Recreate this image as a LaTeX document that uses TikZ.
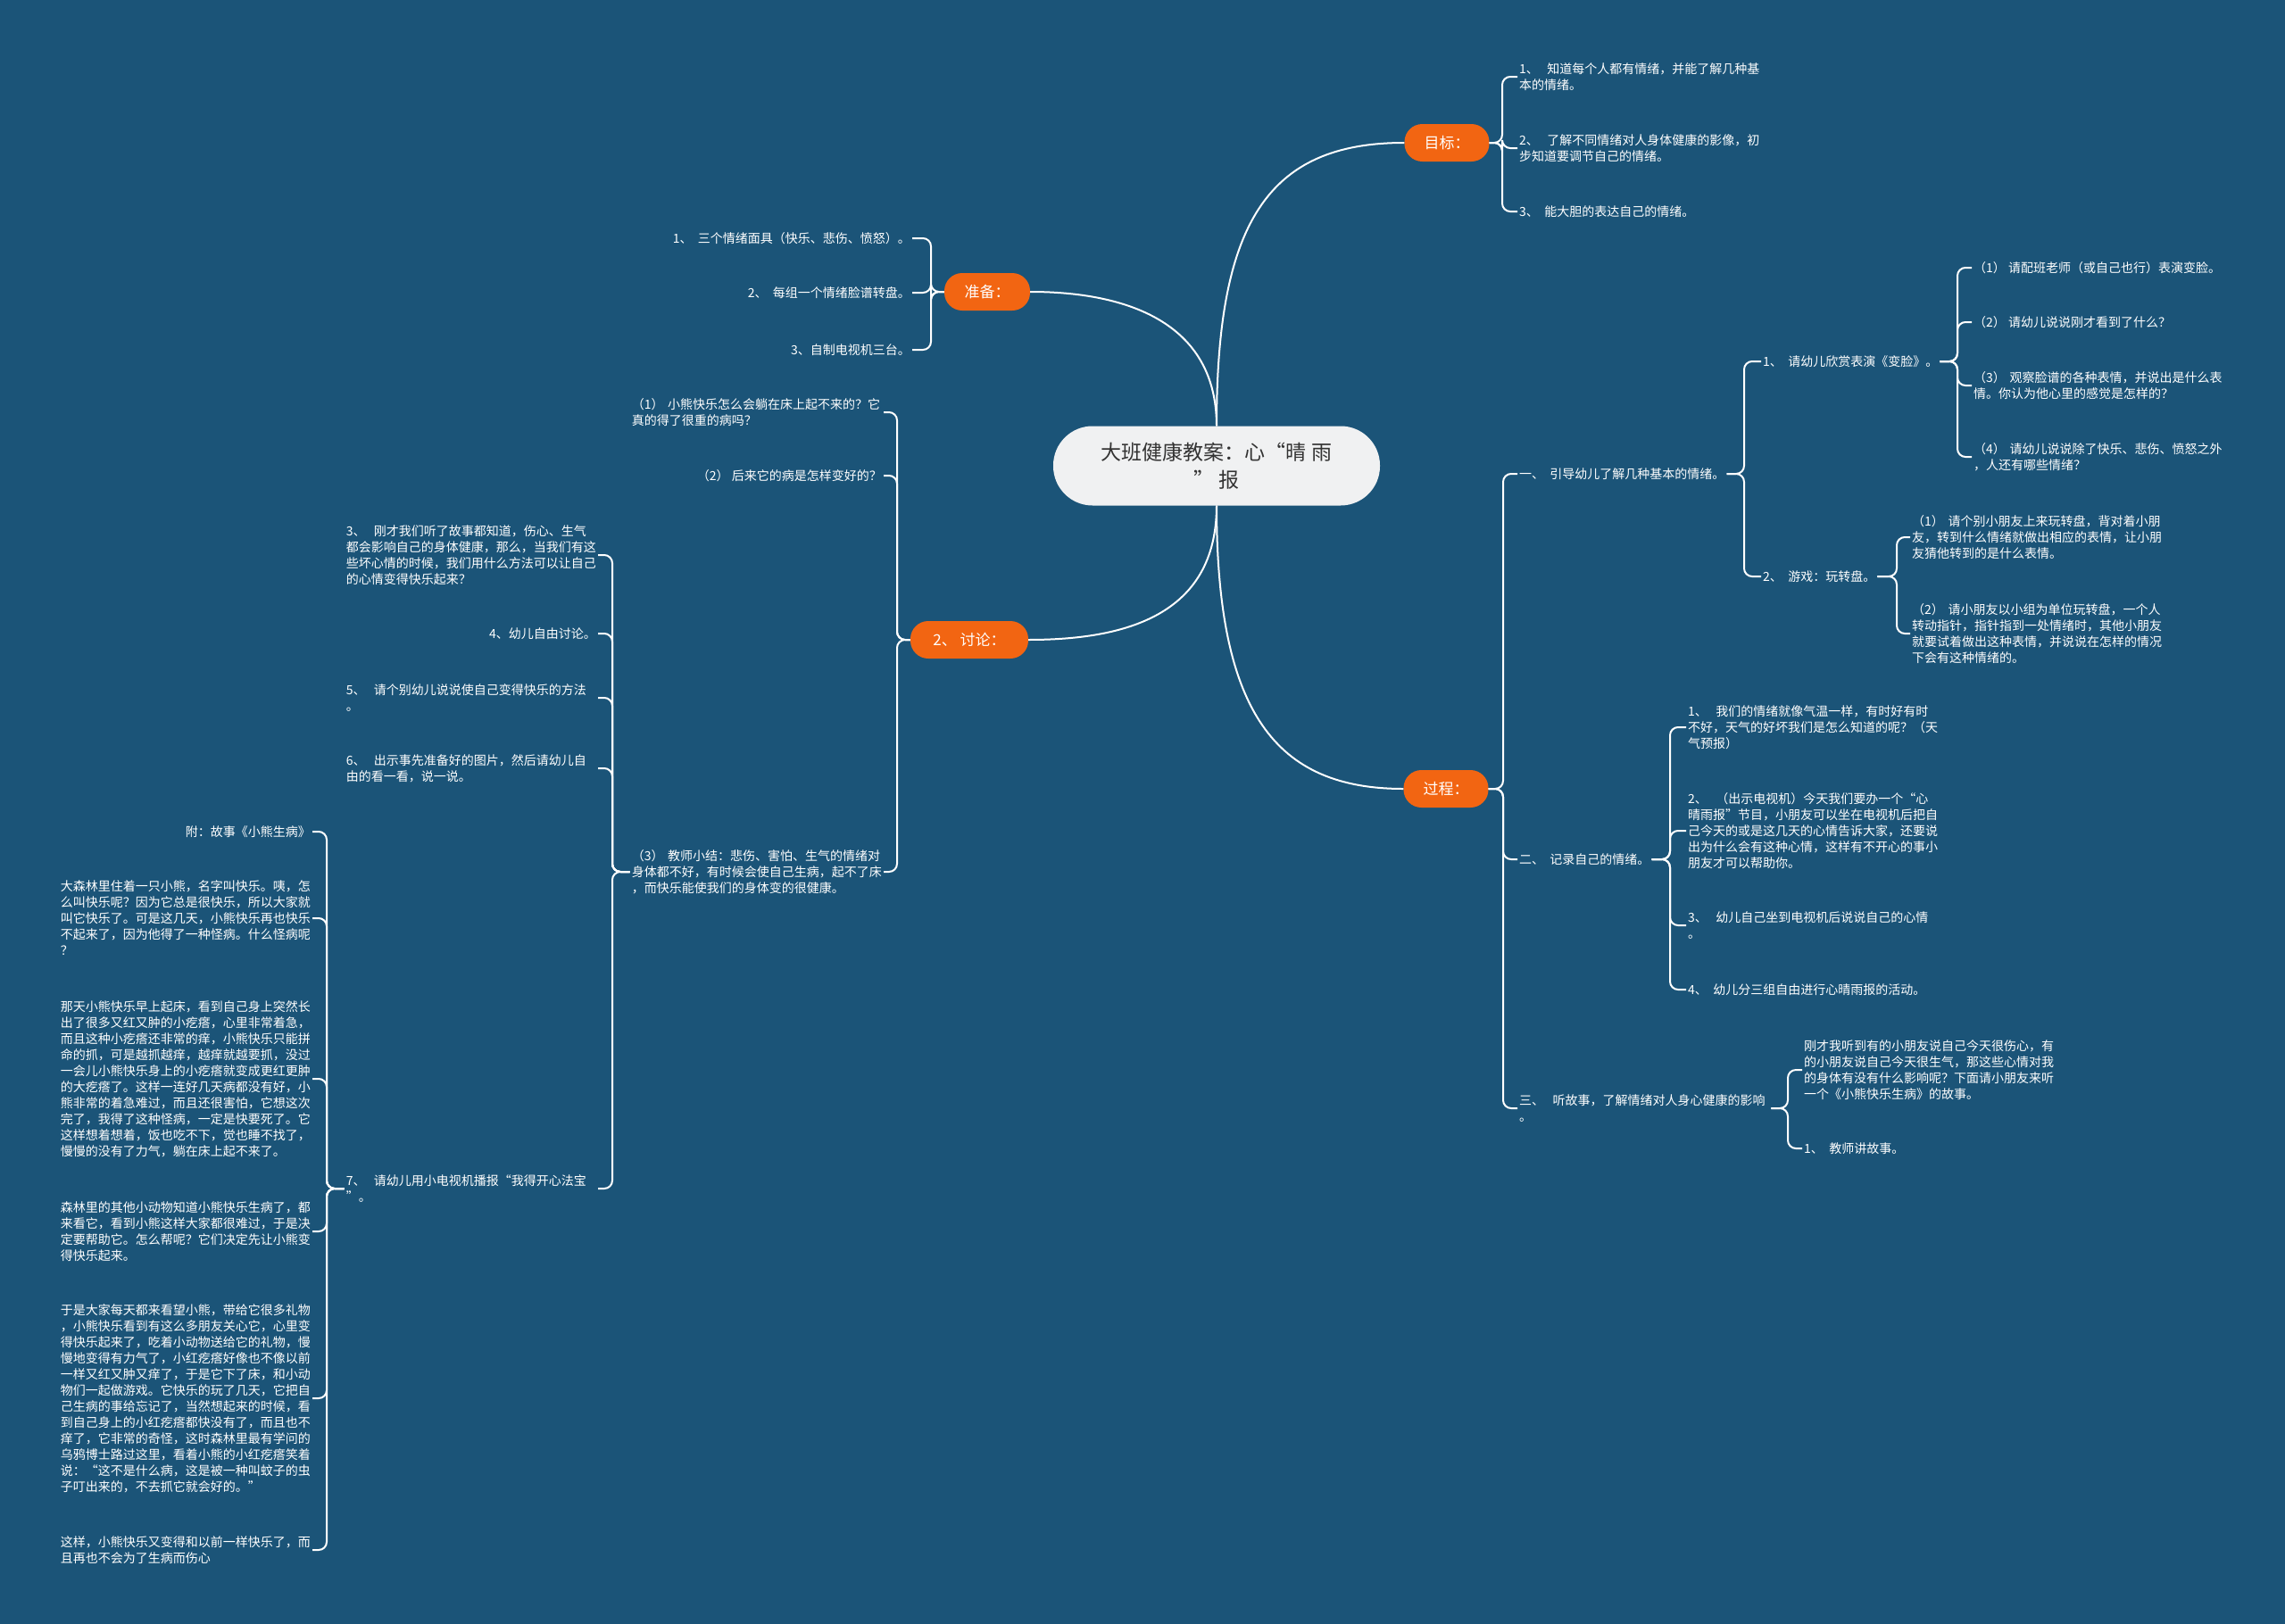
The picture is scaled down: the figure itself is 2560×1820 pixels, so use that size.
\documentclass[tikz,border=0pt]{standalone}
\usepackage{fontspec}
\setmainfont{Noto Sans CJK SC}
\definecolor{bgblue}{RGB}{27,84,120}
\definecolor{orgfill}{RGB}{242,101,18}
\definecolor{ctrfill}{RGB}{240,241,242}
\definecolor{ctrtext}{RGB}{51,51,51}
\begin{document}
\begin{tikzpicture}[x=1pt,y=-1pt,
  conn/.style={draw=white, line width=2pt, rounded corners=9pt},
  mainc/.style={draw=white, line width=2pt},
  onode/.style={fill=orgfill, text=white, rounded corners=20pt, minimum height=42pt, inner sep=0pt, font=\fontsize{17}{20}\selectfont},
  leaf/.style={text=white, inner sep=2pt, font=\fontsize{14}{18}\selectfont, align=left},
  wleaf/.style={leaf, text width=280pt},
]
\fill[bgblue] (0,0) rectangle (2560,1820);
\useasboundingbox (0,0) rectangle (2560,1820);

% bracket x positions
\coordinate (bM) at (1683,0);
\coordinate (bZ) at (1043,0);
\coordinate (bT) at (1005,0);
\coordinate (bI) at (686,0);
\coordinate (bS) at (366,0);
\coordinate (bG) at (1684,0);
\coordinate (bA) at (1954,0);
\coordinate (bB) at (2193,0);
\coordinate (bD) at (2125,0);
\coordinate (bE) at (1871,0);
\coordinate (bF) at (2003,0);

% center
\node[fill=ctrfill, text=ctrtext, rounded corners=44pt, minimum width=366pt, minimum height=89pt, align=center, font=\fontsize{23}{31}\selectfont] (c) at (1363,522) {大班健康教案：心“晴~雨\\”~报};

% main branches
\node[onode, minimum width=95pt] (mubiao) at (1621,160) {目标：};
\node[onode, minimum width=96pt] (zhunbei) at (1106,327) {准备：};
\node[onode, minimum width=132pt] (taolun) at (1086,717) {2、~讨论：};
\node[onode, minimum width=95pt] (guocheng) at (1620,884) {过程：};

\draw[mainc] (c.north) .. controls (1363,250) and (1420,160) .. (mubiao.west);
\draw[mainc] (c.north) .. controls (1363,360) and (1260,327) .. (zhunbei.east);
\draw[mainc] (c.south) .. controls (1363,690) and (1260,717) .. (taolun.east);
\draw[mainc] (c.south) .. controls (1363,800) and (1430,884) .. (guocheng.west);

% 目标
\node[wleaf, anchor=west] (m1) at (1700,86) {1、~~知道每个人都有情绪，并能了解几种基\\本的情绪。};
\node[wleaf, anchor=west] (m2) at (1700,166) {2、~~了解不同情绪对人身体健康的影像，初\\步知道要调节自己的情绪。};
\node[leaf, anchor=west] (m3) at (1700,237) {3、~~能大胆的表达自己的情绪。};
\foreach \n in {m1,m2,m3}
  \draw[conn] (mubiao.east) -- (mubiao.east -| bM) |- (\n.west);

% 准备
\node[leaf, anchor=east] (z1) at (1022,267) {1、~~三个情绪面具（快乐、悲伤、愤怒）。};
\node[leaf, anchor=east] (z2) at (1022,328) {2、~~每组一个情绪脸谱转盘。};
\node[leaf, anchor=east] (z3) at (1022,392) {3、自制电视机三台。};
\foreach \n in {z1,z2,z3}
  \draw[conn] (zhunbei.west) -- (zhunbei.west -| bZ) |- (\n.east);

% 讨论
\node[wleaf, anchor=east] (t1) at (990,462) {（1）~小熊快乐怎么会躺在床上起不来的？它\\真的得了很重的病吗？};
\node[leaf, anchor=east] (t2) at (990,533) {（2）~后来它的病是怎样变好的？};
\node[wleaf, anchor=east] (t3) at (990,977) {（3）~教师小结：悲伤、害怕、生气的情绪对\\身体都不好，有时候会使自己生病，起不了床\\，而快乐能使我们的身体变的很健康。};
\foreach \n in {t1,t2,t3}
  \draw[conn] (taolun.west) -- (taolun.west -| bT) |- (\n.east);

\node[wleaf, anchor=east] (i3) at (670,622) {3、~~刚才我们听了故事都知道，伤心、生气\\都会影响自己的身体健康，那么，当我们有这\\些坏心情的时候，我们用什么方法可以让自己\\的心情变得快乐起来？};
\node[leaf, anchor=east] (i4) at (670,710) {4、幼儿自由讨论。};
\node[wleaf, anchor=east] (i5) at (670,782) {5、~~请个别幼儿说说使自己变得快乐的方法\\。};
\node[wleaf, anchor=east] (i6) at (670,861) {6、~~出示事先准备好的图片，然后请幼儿自\\由的看一看，说一说。};
\node[wleaf, anchor=east] (i7) at (670,1332) {7、~~请幼儿用小电视机播报“我得开心法宝\\”。};
\foreach \n in {i3,i4,i5,i6,i7}
  \draw[conn] (t3.west) -- (t3.west -| bI) |- (\n.east);

% story
\node[leaf, anchor=east] (s1) at (350,932) {附：故事《小熊生病》};
\node[wleaf, anchor=east] (s2) at (350,1029) {大森林里住着一只小熊，名字叫快乐。咦，怎\\么叫快乐呢？因为它总是很快乐，所以大家就\\叫它快乐了。可是这几天，小熊快乐再也快乐\\不起来了，因为他得了一种怪病。什么怪病呢\\？};
\node[wleaf, anchor=east] (s3) at (350,1209) {那天小熊快乐早上起床，看到自己身上突然长\\出了很多又红又肿的小疙瘩，心里非常着急，\\而且这种小疙瘩还非常的痒，小熊快乐只能拼\\命的抓，可是越抓越痒，越痒就越要抓，没过\\一会儿小熊快乐身上的小疙瘩就变成更红更肿\\的大疙瘩了。这样一连好几天病都没有好，小\\熊非常的着急难过，而且还很害怕，它想这次\\完了，我得了这种怪病，一定是快要死了。它\\这样想着想着，饭也吃不下，觉也睡不找了，\\慢慢的没有了力气，躺在床上起不来了。};
\node[wleaf, anchor=east] (s4) at (350,1380) {森林里的其他小动物知道小熊快乐生病了，都\\来看它，看到小熊这样大家都很难过，于是决\\定要帮助它。怎么帮呢？它们决定先让小熊变\\得快乐起来。};
\node[wleaf, anchor=east] (s5) at (350,1567) {于是大家每天都来看望小熊，带给它很多礼物\\，小熊快乐看到有这么多朋友关心它，心里变\\得快乐起来了，吃着小动物送给它的礼物，慢\\慢地变得有力气了，小红疙瘩好像也不像以前\\一样又红又肿又痒了，于是它下了床，和小动\\物们一起做游戏。它快乐的玩了几天，它把自\\己生病的事给忘记了，当然想起来的时候，看\\到自己身上的小红疙瘩都快没有了，而且也不\\痒了，它非常的奇怪，这时森林里最有学问的\\乌鸦博士路过这里，看着小熊的小红疙瘩笑着\\说：“这不是什么病，这是被一种叫蚊子的虫\\子叮出来的，不去抓它就会好的。”};
\node[wleaf, anchor=east] (s6) at (350,1737) {这样，小熊快乐又变得和以前一样快乐了，而\\且再也不会为了生病而伤心};
\foreach \n in {s1,s2,s3,s4,s5,s6}
  \draw[conn] (i7.west) -- (i7.west -| bS) |- (\n.east);

% 过程
\node[leaf, anchor=west] (g1) at (1700,531) {一、~~引导幼儿了解几种基本的情绪。};
\node[leaf, anchor=west] (g2) at (1700,963) {二、~~记录自己的情绪。};
\node[wleaf, anchor=west] (g3) at (1700,1242) {三、~~听故事，了解情绪对人身心健康的影响\\。};
\foreach \n in {g1,g2,g3}
  \draw[conn] (guocheng.east) -- (guocheng.east -| bG) |- (\n.west);

\node[leaf, anchor=west] (a1) at (1973,405) {1、~~请幼儿欣赏表演《变脸》。};
\node[leaf, anchor=west] (a2) at (1973,646) {2、~~游戏：玩转盘。};
\foreach \n in {a1,a2}
  \draw[conn] (g1.east) -- (g1.east -| bA) |- (\n.west);

\node[leaf, anchor=west] (b1) at (2209,300) {（1）~请配班老师（或自己也行）表演变脸。};
\node[leaf, anchor=west] (b2) at (2209,361) {（2）~请幼儿说说刚才看到了什么？};
\node[wleaf, anchor=west] (b3) at (2209,432) {（3）~观察脸谱的各种表情，并说出是什么表\\情。你认为他心里的感觉是怎样的？};
\node[wleaf, anchor=west] (b4) at (2209,512) {（4）~请幼儿说说除了快乐、悲伤、愤怒之外\\，人还有哪些情绪？};
\foreach \n in {b1,b2,b3,b4}
  \draw[conn] (a1.east) -- (a1.east -| bB) |- (\n.west);

\node[wleaf, anchor=west] (d1) at (2140,602) {（1）~请个别小朋友上来玩转盘，背对着小朋\\友，转到什么情绪就做出相应的表情，让小朋\\友猜他转到的是什么表情。};
\node[wleaf, anchor=west] (d2) at (2140,710) {（2）~请小朋友以小组为单位玩转盘，一个人\\转动指针，指针指到一处情绪时，其他小朋友\\就要试着做出这种表情，并说说在怎样的情况\\下会有这种情绪的。};
\foreach \n in {d1,d2}
  \draw[conn] (a2.east) -- (a2.east -| bD) |- (\n.west);

\node[wleaf, anchor=west] (e1) at (1889,815) {1、~~我们的情绪就像气温一样，有时好有时\\不好，天气的好坏我们是怎么知道的呢？（天\\气预报）};
\node[wleaf, anchor=west] (e2) at (1889,931) {2、~~（出示电视机）今天我们要办一个“心\\晴雨报”节目，小朋友可以坐在电视机后把自\\己今天的或是这几天的心情告诉大家，还要说\\出为什么会有这种心情，这样有不开心的事小\\朋友才可以帮助你。};
\node[wleaf, anchor=west] (e3) at (1889,1037) {3、~~幼儿自己坐到电视机后说说自己的心情\\。};
\node[leaf, anchor=west] (e4) at (1889,1109) {4、~~幼儿分三组自由进行心晴雨报的活动。};
\foreach \n in {e1,e2,e3,e4}
  \draw[conn] (g2.east) -- (g2.east -| bE) |- (\n.west);

\node[wleaf, anchor=west] (f1) at (2019,1199) {刚才我听到有的小朋友说自己今天很伤心，有\\的小朋友说自己今天很生气，那这些心情对我\\的身体有没有什么影响呢？下面请小朋友来听\\一个《小熊快乐生病》的故事。};
\node[leaf, anchor=west] (f2) at (2019,1287) {1、~~教师讲故事。};
\foreach \n in {f1,f2}
  \draw[conn] (g3.east) -- (g3.east -| bF) |- (\n.west);
\end{tikzpicture}
\end{document}
